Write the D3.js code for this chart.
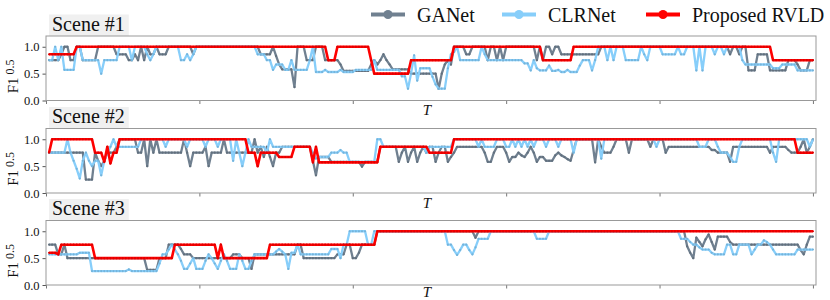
<!DOCTYPE html>
<html>
<head>
<meta charset="utf-8">
<script src="https://cdn.jsdelivr.net/npm/d3@7/dist/d3.min.js"></script>
<style>
  body { margin: 0; background: #fff; }
  text { font-family: "Liberation Serif", "Times New Roman", serif; fill: #111; }
</style>
</head>
<body>
<svg width="830" height="300"></svg>
<script>
const sceneNames = ['Scene #1', 'Scene #2', 'Scene #3'];
const seriesNames = ['GANet', 'CLRNet', 'Proposed RVLD'];
const seriesColors = ['#708090', '#87CEFA', '#FF0000'];
const frameCount = 250;
const yTicks = [0, 0.5, 1.0];
const xTicks = [0, 50, 100, 150, 200, 250];

// runs: [first frame, F1 value], value holds until the next run
const scene1GANet = [[0,0.75],[5,0.86],[6,1],[8,0.75],[10,1],[12,0.75],[17,1],[23,0.86],[27,0.75],[29,0.86],[30,0.75],[31,1],[32,0.75],[33,1],[34,0.86],[36,1],[37,0.86],[40,1],[48,0.86],[49,1],[70,0.86],[74,1],[75,0.83],[76,0.67],[77,0.58],[81,0.25],[82,1],[85,0.75],[88,1],[91,0.75],[96,0.67],[97,0.55],[106,0.67],[107,0.75],[108,0.67],[109,0.75],[110,0.86],[111,0.75],[112,0.67],[113,0.58],[119,0.5],[128,0.22],[129,0.5],[130,0.67],[131,0.75],[132,0.67],[133,1],[137,0.86],[139,1],[144,0.75],[145,1],[147,0.75],[148,1],[149,0.75],[150,1],[160,0.75],[161,1],[162,0.75],[163,1],[165,0.86],[166,1],[168,0.86],[181,1],[223,0.86],[224,1],[226,0.86],[227,1],[229,0.56],[232,0.86],[236,0.56],[242,0.75],[245,0.67],[246,0.56],[249,0.75]];
const scene1CLRNet = [[0,0.57],[1,0.75],[3,1],[4,0.75],[5,1],[6,0.57],[10,1],[12,0.75],[18,0.5],[19,0.75],[24,1],[28,0.75],[29,1],[33,0.86],[34,0.75],[35,0.86],[36,1],[44,0.75],[46,0.86],[47,0.75],[48,0.86],[49,1],[69,0.86],[72,0.75],[74,0.57],[75,0.67],[78,0.57],[80,0.75],[81,0.57],[86,0.75],[87,1],[88,0.53],[91,0.57],[92,0.53],[96,0.57],[97,0.53],[101,0.57],[107,0.75],[108,0.57],[116,0.45],[118,0.22],[119,0.5],[120,0.84],[121,0.37],[122,0.6],[126,0.44],[127,0.3],[128,0.22],[131,0.6],[132,0.86],[133,0.9],[134,1],[135,0.75],[142,1],[143,0.86],[144,0.75],[156,0.69],[158,0.56],[159,0.75],[160,0.6],[161,0.56],[164,0.65],[165,0.55],[167,0.57],[168,0.53],[170,0.57],[171,0.53],[174,0.65],[175,0.75],[178,0.56],[179,0.75],[180,1],[183,0.75],[184,1],[185,0.75],[186,1],[189,0.75],[194,1],[195,0.86],[196,0.75],[197,1],[201,0.86],[206,1],[207,0.86],[209,1],[212,0.56],[213,1],[214,0.56],[215,1],[218,0.86],[219,1],[221,0.86],[222,1],[227,0.75],[228,0.67],[237,0.6],[240,0.67],[245,0.56]];
const scene1RVLD = [[0,0.67],[1,0.86],[10,1],[92,0.75],[95,1],[106,0.75],[107,0.5],[119,0.75],[133,1],[162,0.75],[172,1],[237,0.75]];

const scene2GANet = [[0,0.75],[13,0.25],[16,0.75],[17,0.6],[18,0.5],[19,0.6],[20,0.75],[23,0.86],[24,1],[30,0.75],[32,1],[33,0.5],[34,1],[35,0.75],[36,1],[37,0.75],[45,1],[46,0.75],[47,0.5],[48,0.75],[52,0.86],[53,0.5],[54,0.75],[58,1],[59,0.75],[68,1],[69,0.75],[70,0.86],[71,0.67],[72,0.86],[73,0.67],[74,0.5],[75,0.75],[77,0.86],[87,0.6],[88,0.33],[89,0.67],[93,0.58],[103,0.49],[104,0.58],[109,0.86],[115,0.58],[116,0.75],[117,0.86],[118,0.58],[119,0.75],[120,0.86],[121,0.58],[122,0.75],[123,0.86],[124,0.75],[125,0.86],[127,0.58],[128,0.75],[129,0.86],[131,0.58],[132,0.67],[133,0.75],[134,0.86],[143,0.75],[144,0.58],[146,0.75],[147,0.86],[150,0.75],[151,0.58],[152,0.67],[154,0.75],[155,0.7],[156,0.67],[157,0.75],[158,0.86],[159,0.75],[160,0.58],[161,0.67],[163,0.6],[166,0.7],[167,0.75],[168,0.7],[169,0.67],[170,0.63],[171,0.6],[172,0.8],[173,1],[179,0.57],[180,1],[181,0.86],[182,0.75],[185,0.86],[186,1],[190,0.75],[191,1],[197,0.86],[198,1],[202,0.75],[203,0.86],[217,0.8],[219,0.75],[223,0.58],[224,0.86],[236,0.75],[237,0.86],[242,0.8],[243,0.75],[246,0.86],[247,1],[248,0.75],[249,0.86],[250,1]];
const scene2CLRNet = [[0,0.75],[7,1],[8,0.75],[9,0.6],[10,0.45],[11,0.27],[12,0.6],[13,0.75],[14,0.6],[15,0.5],[16,0.6],[18,0.33],[19,0.6],[20,0.75],[21,0.86],[22,1],[23,0.86],[31,1],[39,0.86],[40,1],[46,0.86],[47,1],[52,0.86],[53,1],[56,0.86],[57,1],[61,0.6],[62,1],[63,0.75],[64,0.5],[65,0.75],[66,1],[67,0.86],[72,0.75],[73,1],[74,0.86],[87,0.75],[88,0.64],[89,0.67],[93,0.75],[96,0.8],[97,0.75],[99,0.58],[108,1],[110,0.86],[124,0.75],[125,0.86],[133,1],[141,0.86],[142,1],[143,0.86],[147,1],[150,0.86],[152,1],[153,0.86],[154,1],[155,0.86],[156,1],[157,0.86],[158,1],[159,0.86],[160,1],[163,0.86],[164,1],[167,0.86],[168,1],[172,0.75],[173,1],[181,0.64],[182,1],[199,0.86],[200,1],[213,0.86],[216,1],[219,0.86],[220,0.75],[223,0.67],[224,0.58],[226,0.86],[227,1],[237,0.75],[238,0.58],[239,1],[249,0.86],[250,1]];
const scene2RVLD = [[0,0.86],[1,0.75],[2,1],[16,0.75],[19,0.58],[20,0.86],[21,0.55],[22,0.75],[24,1],[66,0.75],[69,0.5],[70,0.75],[76,0.67],[81,0.86],[87,0.57],[88,0.86],[89,0.57],[109,0.86],[125,0.75],[133,1],[245,0.75]];

const scene3GANet = [[0,0.75],[4,0.57],[6,0.75],[7,0.5],[33,0.28],[37,0.5],[40,0.75],[44,0.67],[45,0.57],[48,0.5],[61,0.57],[64,0.5],[67,0.3],[68,0.57],[82,0.75],[84,0.5],[95,0.57],[98,0.75],[100,0.5],[102,0.6],[103,0.75],[108,1],[140,0.88],[141,1],[209,0.72],[210,0.6],[211,0.5],[212,0.88],[213,0.8],[214,0.72],[215,0.85],[216,0.94],[217,0.8],[218,0.66],[219,0.9],[223,0.8],[224,0.75],[246,0.65],[247,0.57],[248,0.75],[249,0.9]];
const scene3CLRNet = [[0,0.57],[11,0.6],[15,0.26],[27,0.29],[28,0.26],[37,0.4],[38,0.57],[40,0.66],[41,0.75],[42,0.66],[43,0.57],[44,0.45],[45,0.3],[47,0.4],[48,0.5],[49,0.3],[52,0.45],[53,0.57],[54,0.5],[55,0.4],[56,0.3],[57,0.45],[58,0.57],[59,0.45],[60,0.3],[63,0.57],[64,0.45],[65,0.3],[67,0.45],[68,0.57],[75,0.62],[76,0.67],[77,0.62],[78,0.57],[79,0.3],[80,0.6],[82,0.75],[83,0.57],[93,0.67],[96,0.5],[97,0.75],[99,1],[105,0.75],[107,1],[131,0.75],[133,0.65],[134,0.56],[135,0.65],[136,0.75],[138,0.65],[139,0.57],[140,0.7],[141,0.86],[145,1],[160,0.86],[164,1],[207,0.86],[210,0.8],[211,0.75],[213,0.7],[214,0.66],[217,0.6],[218,0.57],[222,0.75],[224,0.57],[226,0.75],[230,0.57],[231,0.66],[232,0.75],[234,0.83],[235,0.8],[236,0.75],[237,0.66],[238,0.57],[245,0.66]];
const scene3RVLD = [[0,0.67],[1,0.6],[4,0.57],[5,0.75],[16,0.5],[42,0.75],[56,0.5],[57,0.75],[58,0.5],[73,0.75],[108,1]];

const scenes = [
  [scene1GANet, scene1CLRNet, scene1RVLD],
  [scene2GANet, scene2CLRNet, scene2RVLD],
  [scene3GANet, scene3CLRNet, scene3RVLD]
];

const svg = d3.select('svg');
const panelTops = [36, 128.5, 220.5];
const panelH = 64.5;

const x = d3.scaleLinear().domain([0, 251]).range([46, 816]);

// turn the runs into one value per frame
function expand(runs) {
  const out = [];
  let k = 0;
  for (let t = 1; t <= frameCount; t++) {
    while (k + 1 < runs.length && runs[k + 1][0] <= t) k++;
    out.push({t: t, v: runs[k][1]});
  }
  return out;
}

scenes.forEach((sceneRuns, si) => {
  const top = panelTops[si];
  const y = d3.scaleLinear().domain([0, 1.2]).range([top + panelH, top]);
  const g = svg.append('g').classed('panel', true);

  // scene title box
  const title = g.append('text')
    .attr('x', 52).attr('y', top - 5.5)
    .style('font-size', '20px')
    .text(sceneNames[si]);
  const tw = title.node().getComputedTextLength();
  g.insert('rect', 'text')
    .attr('x', 49).attr('y', top - 21.5)
    .attr('width', tw + 7).attr('height', 21.5)
    .attr('fill', '#f0f0f0');

  // axes
  const yAxis = g.append('g')
    .attr('transform', `translate(${x.range()[0]},0)`)
    .call(d3.axisLeft(y).tickValues(yTicks).tickFormat(d3.format('.1f')).tickSize(3.5).tickPadding(3));
  yAxis.select('.domain').remove();
  yAxis.attr('font-family', null);
  yAxis.selectAll('text').style('font-size', '12.5px').style('font-family', '"Liberation Serif", serif');
  yAxis.selectAll('line').attr('stroke', '#555');

  const xAxis = g.append('g')
    .attr('transform', `translate(0,${top + panelH})`)
    .call(d3.axisBottom(x).tickValues(xTicks).tickFormat('').tickSize(3.5));
  xAxis.select('.domain').remove();
  xAxis.selectAll('line').attr('stroke', '#777');

  g.append('rect')
    .attr('x', x.range()[0]).attr('y', top)
    .attr('width', x.range()[1] - x.range()[0]).attr('height', panelH)
    .attr('fill', 'none').attr('stroke', '#999').attr('stroke-width', 1);

  // series
  const line = d3.line().x(d => x(d.t)).y(d => y(d.v));
  sceneRuns.forEach((runs, k) => {
    const data = expand(runs);
    g.append('path')
      .datum(data)
      .attr('d', line)
      .attr('fill', 'none')
      .attr('stroke', seriesColors[k])
      .attr('stroke-width', k === 2 ? 2.6 : 2.3)
      .attr('stroke-linejoin', 'round');
    g.append('g').selectAll('circle')
      .data(data)
      .enter()
      .append('circle')
      .attr('cx', d => x(d.t))
      .attr('cy', d => y(d.v))
      .attr('r', 1.1)
      .attr('fill', d3.color(seriesColors[k]).darker(0.4));
  });

  // axis labels
  const yl = g.append('text')
    .attr('transform', `translate(18,${top + panelH / 2 + 25}) rotate(-90)`)
    .style('font-size', '15px');
  yl.append('tspan').text('F1');
  yl.append('tspan').attr('dx', 3).attr('dy', -4).style('font-size', '12px').text('0.5');

  g.append('text')
    .attr('x', 427).attr('y', Math.min(top + panelH + 14.5, 297))
    .attr('text-anchor', 'middle')
    .style('font-size', '15px').style('font-style', 'italic')
    .text('T');
});

// legend
const legendX = [371, 502, 646];
const legend = svg.append('g').classed('legend', true);
seriesNames.forEach((name, k) => {
  const lx = legendX[k];
  legend.append('line')
    .attr('x1', lx).attr('x2', lx + 34)
    .attr('y1', 14.5).attr('y2', 14.5)
    .attr('stroke', seriesColors[k]).attr('stroke-width', 4);
  legend.append('circle')
    .attr('cx', lx + 17).attr('cy', 14.5).attr('r', 4.5)
    .attr('fill', seriesColors[k]);
  legend.append('text')
    .attr('x', lx + 46).attr('y', 21.5)
    .style('font-size', '20px')
    .text(name);
});
</script>
</body>
</html>
